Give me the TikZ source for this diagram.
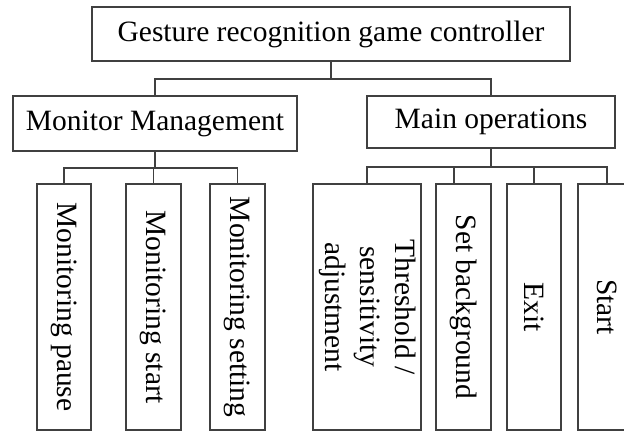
\documentclass[tikz,border=0pt]{standalone}
\usepackage{fontspec}
\usepackage{graphicx}
\setmainfont{Liberation Serif}
\begin{document}
\begin{tikzpicture}[x=1pt,y=-1pt,
    box/.style={draw=black!75, line width=1.3pt, inner sep=0pt, outer sep=0pt,
                font=\fontsize{29.5}{35}\selectfont},
    leaf/.style={box, minimum height=246pt},
    link/.style={draw=black!75, line width=1.3pt}]
  \clip (0,0) rectangle (624,432);
  \fill[white] (0,0) rectangle (624,432);

  % root and the two groups
  \node[box, minimum width=478pt, minimum height=54pt] (root) at (331,34) {Gesture recognition game controller};
  \node[box, minimum width=284pt, minimum height=55pt] (mm) at (155,123.5) {Monitor Management};
  \node[box, minimum width=248pt, minimum height=52pt] (mo) at (491,122) {Main operations};

  % leaves, text running downwards
  \node[leaf, minimum width=54pt] (lp) at (64,307) {\rotatebox[origin=c]{-90}{Monitoring pause}};
  \node[leaf, minimum width=55pt] (ls) at (153.5,307) {\rotatebox[origin=c]{-90}{Monitoring start}};
  \node[leaf, minimum width=55pt] (lt) at (237.5,307) {\rotatebox[origin=c]{-90}{Monitoring setting}};
  \node[leaf, minimum width=108pt] (th) at (367,307) {\rotatebox[origin=c]{-90}{\begin{tabular}{@{}c@{}}Threshold /\\sensitivity\\adjustment\end{tabular}}};
  \node[leaf, minimum width=55pt] (sb) at (463.5,307) {\rotatebox[origin=c]{-90}{Set background}};
  \node[leaf, minimum width=54pt] (ex) at (534,307) {\rotatebox[origin=c]{-90}{Exit}};
  \node[leaf, minimum width=58pt] (st) at (607,307) {\rotatebox[origin=c]{-90}{Start}};

  % bus junctions
  \coordinate (b0) at (331,79);
  \coordinate (b1) at (155,168);
  \coordinate (b2) at (491,167);

  % root to groups
  \draw[link] (root.south) -- (b0);
  \draw[link] (mm.north) |- (b0) -| (mo.north);

  % monitor management to its leaves
  \draw[link] (mm.south) -- (b1);
  \draw[link] (lp.north) |- (b1);
  \draw[link] (b1) -| (lt.north);
  \draw[link] (ls.north) -- (ls.north |- b1);

  % main operations to its leaves
  \draw[link] (mo.south) -- (b2);
  \draw[link] (th.north) |- (b2);
  \draw[link] (b2) -| (st.north);
  \draw[link] (454,184) -- (454,167);
  \draw[link] (ex.north) -- (ex.north |- b2);
\end{tikzpicture}
\end{document}
